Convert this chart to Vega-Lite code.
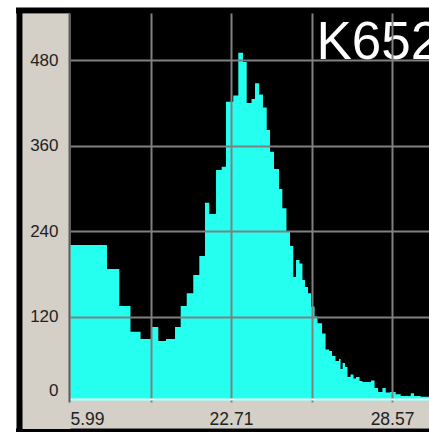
{
  "$schema": "https://vega.github.io/schema/vega-lite/v6.json",
  "width": 359,
  "height": 389,
  "autosize": {"type": "none"},
  "padding": {"left": 70, "top": 13, "right": 0, "bottom": 30},
  "background": "white",
  "config": {"view": {"fill": "black", "stroke": null}},
  "data": {"values": [
    {"ch": 0, "n": 220.4}, {"ch": 29.4, "n": 186.7}, {"ch": 39.2, "n": 134.7}, {"ch": 48.1, "n": 98.7},
    {"ch": 56.1, "n": 88.4}, {"ch": 65.2, "n": 105.3}, {"ch": 70.2, "n": 85.6}, {"ch": 76.3, "n": 88.4},
    {"ch": 83.5, "n": 105.3}, {"ch": 88.0, "n": 134.7}, {"ch": 92.8, "n": 152.6}, {"ch": 98.0, "n": 178.2},
    {"ch": 102.8, "n": 204.9}, {"ch": 107.3, "n": 279.7}, {"ch": 110.7, "n": 263.9}, {"ch": 116.1, "n": 325.6},
    {"ch": 120.6, "n": 330.2}, {"ch": 124.0, "n": 421.5}, {"ch": 129.8, "n": 430.2}, {"ch": 133.8, "n": 490.2},
    {"ch": 137.5, "n": 477.2}, {"ch": 140.5, "n": 419.6}, {"ch": 144.3, "n": 425.3}, {"ch": 147.1, "n": 447.3},
    {"ch": 150.4, "n": 431.6}, {"ch": 153.4, "n": 413.3}, {"ch": 156.4, "n": 381.8}, {"ch": 159.0, "n": 351.3},
    {"ch": 162.2, "n": 327.0}, {"ch": 166.2, "n": 298.9}, {"ch": 168.8, "n": 271.9}, {"ch": 172.1, "n": 238.6},
    {"ch": 174.9, "n": 218.9}, {"ch": 177.5, "n": 175.4}, {"ch": 179.7, "n": 199.3}, {"ch": 182.5, "n": 194.4},
    {"ch": 184.8, "n": 171.2}, {"ch": 186.8, "n": 161.4}, {"ch": 189.2, "n": 152.6}, {"ch": 191.6, "n": 134.0},
    {"ch": 194.4, "n": 120.0}, {"ch": 196.8, "n": 110.5}, {"ch": 200.4, "n": 96.1}, {"ch": 203.2, "n": 73.7},
    {"ch": 205.9, "n": 71.6}, {"ch": 208.3, "n": 64.6}, {"ch": 211.1, "n": 57.5}, {"ch": 213.9, "n": 60.4},
    {"ch": 215.1, "n": 46.3}, {"ch": 216.7, "n": 54.7}, {"ch": 218.6, "n": 49.1}, {"ch": 220.6, "n": 35.1},
    {"ch": 223.0, "n": 38.6}, {"ch": 225.4, "n": 33.0}, {"ch": 227.4, "n": 35.1}, {"ch": 230.2, "n": 29.5},
    {"ch": 232.5, "n": 28.1}, {"ch": 239.3, "n": 30.2}, {"ch": 242.1, "n": 19.6}, {"ch": 244.9, "n": 14.0},
    {"ch": 248.4, "n": 19.6}, {"ch": 251.0, "n": 13.3}, {"ch": 254.4, "n": 14.0}, {"ch": 258.9, "n": 10.8},
    {"ch": 262.9, "n": 8.4}, {"ch": 270.9, "n": 12.2}, {"ch": 273.5, "n": 8.4}, {"ch": 278.8, "n": 7.4},
    {"ch": 285.4, "n": 7.4}
  ]},
  "layer": [
    {
      "mark": {"type": "area", "interpolate": "step-after", "color": "#24fff0", "clip": true},
      "encoding": {
        "x": {"field": "ch", "type": "quantitative", "scale": {"domain": [0, 285.4], "nice": false, "zero": false},
          "axis": {"values": [0, 64, 128, 192, 256], "labelExpr": "datum.value == 0 ? '5.99' : datum.value == 128 ? '22.71' : datum.value == 256 ? '28.57' : ''",
            "ticks": false, "grid": true, "gridColor": "#808080", "gridWidth": 2, "gridOpacity": {"condition": {"test": "datum.value == 0", "value": 0}, "value": 1},
            "domain": true, "domainColor": "#f4f4f4", "domainWidth": 2, "offset": -3, "labelPadding": 11, "labelFlush": true, "labelOverlap": false,
            "labelFont": "Liberation Sans", "labelFontSize": 17.5, "labelColor": "#222222", "zindex": 2, "title": null}},
        "y": {"field": "n", "type": "quantitative", "scale": {"domain": [0, 546], "nice": false},
          "axis": {"values": [0, 120, 240, 360, 480], "ticks": false, "grid": true, "gridColor": "#808080", "gridWidth": 2,
            "gridOpacity": {"condition": {"test": "datum.value == 0", "value": 0}, "value": 1},
            "domain": true, "domainColor": "#5a5a5a", "domainWidth": 2, "offset": 1, "labelPadding": 11, "labelFlush": true, "labelFlushOffset": -2.4,
            "labelOverlap": false, "labelFont": "Liberation Sans", "labelFontSize": 17, "labelColor": "#222222", "zindex": 2, "title": null}}
      }
    },
    {
      "mark": {"type": "point", "opacity": 0},
      "encoding": {
        "x": {"field": "ch", "type": "quantitative", "scale": {"domain": [0, 285.4], "nice": false, "zero": false},
          "axis": {"orient": "bottom", "values": [123.6], "labels": false, "grid": false, "domain": false, "ticks": true, "tickColor": "#d4d0c8", "tickWidth": 407, "tickSize": 28, "tickCap": "butt", "offset": -2, "zindex": 1, "title": null}},
        "y": {"field": "n", "type": "quantitative", "scale": {"domain": [0, 546], "nice": false},
          "axis": {"orient": "left", "values": [254.7], "labels": false, "grid": false, "domain": false, "ticks": true, "tickColor": "#d4d0c8", "tickWidth": 415, "tickSize": 48, "tickCap": "butt", "offset": 0, "zindex": 1, "title": null}}
      }
    },
    {
      "mark": {"type": "point", "opacity": 0},
      "encoding": {
        "x": {"field": "ch", "type": "quantitative", "scale": {"domain": [0, 285.4], "nice": false, "zero": false},
          "axis": {"orient": "bottom", "values": [121.2], "labels": false, "grid": false, "domain": false, "ticks": true, "tickColor": "#000000", "tickWidth": 413, "tickSize": 10, "tickCap": "butt", "offset": 26, "zindex": 1, "title": null}},
        "y": {"field": "n", "type": "quantitative", "scale": {"domain": [0, 546], "nice": false},
          "axis": {"orient": "left", "values": [256.1], "labels": false, "grid": false, "domain": false, "ticks": true, "tickColor": "#000000", "tickWidth": 425, "tickSize": 6, "tickCap": "butt", "offset": 48, "zindex": 1, "title": null}}
      }
    },
    {
      "mark": {"type": "point", "opacity": 0},
      "encoding": {
        "x": {"field": "ch", "type": "quantitative", "scale": {"domain": [0, 285.4], "nice": false, "zero": false},
          "axis": {"orient": "top", "values": [121.2], "labels": false, "grid": false, "domain": false, "ticks": true, "tickColor": "#000000", "tickWidth": 413, "tickSize": 6, "tickCap": "butt", "offset": 0, "zindex": 1,
            "title": "K652", "titleFont": "Liberation Sans", "titleFontSize": 53, "titleFontWeight": "normal", "titleColor": "#ffffff",
            "titleX": 246, "titleY": 3, "titleAlign": "left", "titleBaseline": "top", "titleAngle": 0, "titleAnchor": "start"}},
        "y": {"field": "n", "type": "quantitative", "scale": {"domain": [0, 546], "nice": false}, "axis": null}
      }
    }
  ],
  "resolve": {"axis": {"x": "independent", "y": "independent"}}
}
